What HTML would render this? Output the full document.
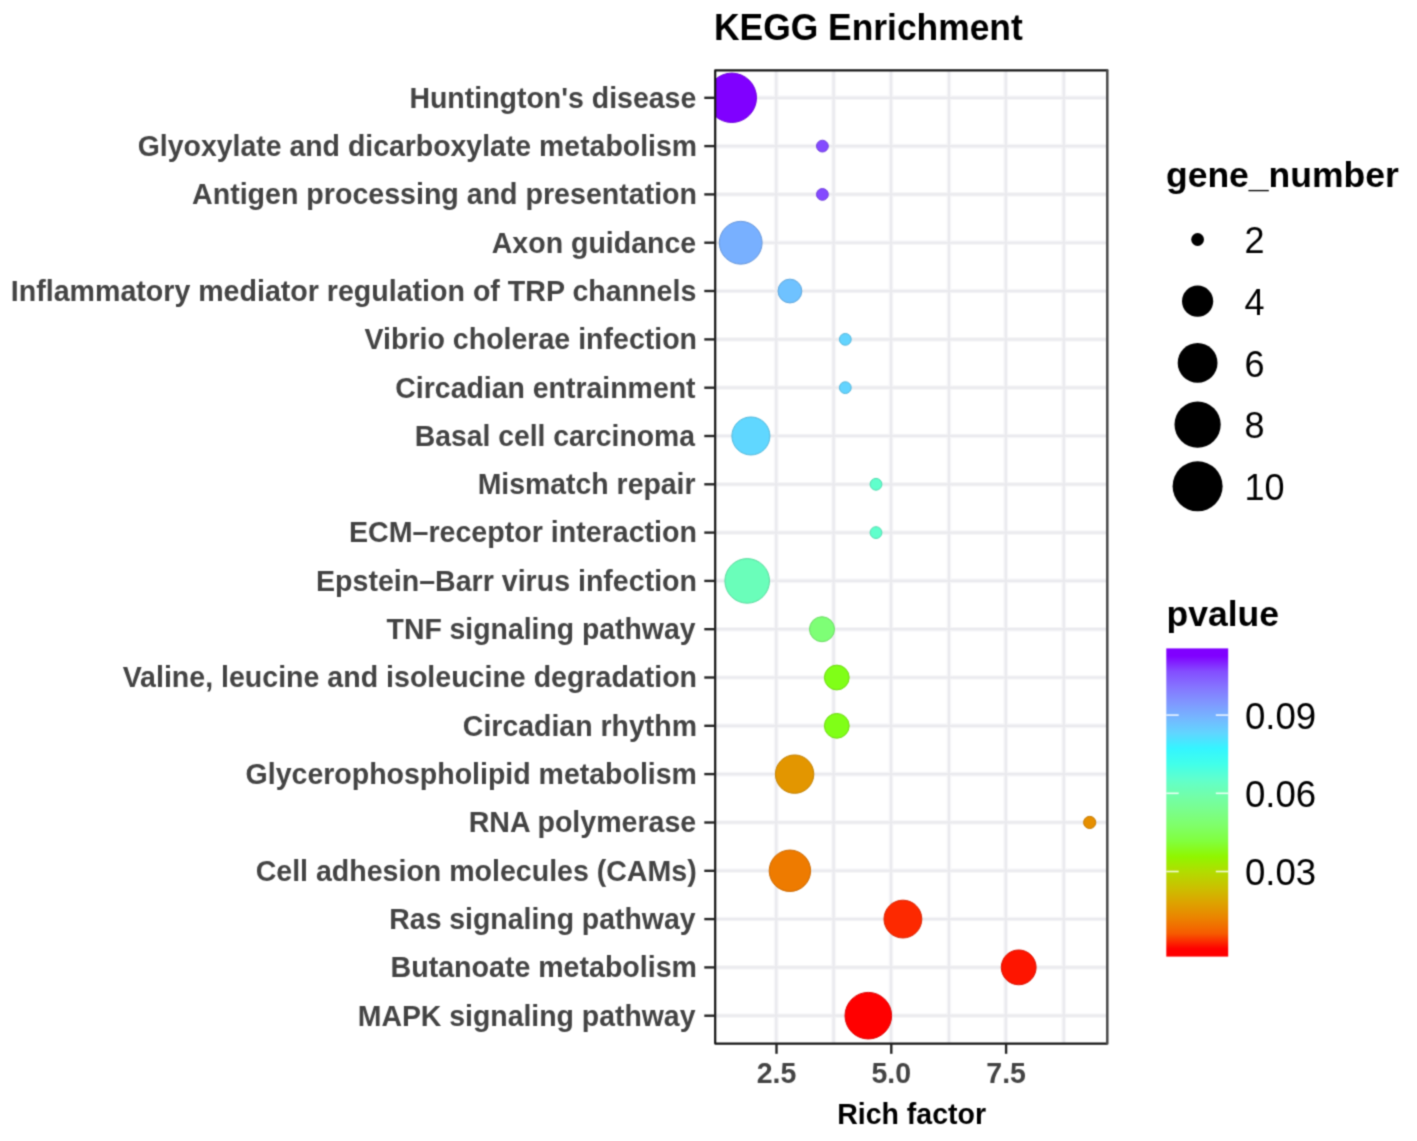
<!DOCTYPE html><html><head><meta charset="utf-8"><style>html,body{margin:0;padding:0;background:#fff;}svg{display:block;}text{font-family:"Liberation Sans",sans-serif;}</style></head><body>
<svg width="1417" height="1141" viewBox="0 0 1417 1141">
<rect width="1417" height="1141" fill="#fff"/>
<defs><clipPath id="pc"><rect x="715.2" y="70.3" width="392.0999999999999" height="973.3"/></clipPath>
<filter id="sb" filterUnits="userSpaceOnUse" x="0" y="0" width="1417" height="1141" color-interpolation-filters="sRGB"><feConvolveMatrix order="3" kernelMatrix="0.03610 0.11780 0.03610 0.11780 0.38440 0.11780 0.03610 0.11780 0.03610" divisor="1" preserveAlpha="false" edgeMode="none"/></filter>
<linearGradient id="cb" x1="0" y1="0" x2="0" y2="1"><stop offset="0.0" stop-color="#8000FF"/><stop offset="0.025" stop-color="#8000FF"/><stop offset="0.075" stop-color="#844DFF"/><stop offset="0.125" stop-color="#8574FF"/><stop offset="0.175" stop-color="#8096FF"/><stop offset="0.225" stop-color="#75B6FF"/><stop offset="0.275" stop-color="#61D5FF"/><stop offset="0.325" stop-color="#34F5FF"/><stop offset="0.375" stop-color="#41FFEA"/><stop offset="0.425" stop-color="#60FFCC"/><stop offset="0.475" stop-color="#71FEAC"/><stop offset="0.525" stop-color="#7AFE8C"/><stop offset="0.575" stop-color="#7FFF69"/><stop offset="0.625" stop-color="#81FF3E"/><stop offset="0.675" stop-color="#90F600"/><stop offset="0.725" stop-color="#B2DC00"/><stop offset="0.775" stop-color="#CAC100"/><stop offset="0.825" stop-color="#DDA300"/><stop offset="0.875" stop-color="#EB8300"/><stop offset="0.925" stop-color="#F65B00"/><stop offset="0.975" stop-color="#FF0000"/><stop offset="1.0" stop-color="#FF0000"/></linearGradient></defs>
<g filter="url(#sb)">
<g stroke="#F6F6F8" stroke-width="4.6" fill="none">
<line x1="776.2" y1="70.3" x2="776.2" y2="1043.6"/>
<line x1="833.6" y1="70.3" x2="833.6" y2="1043.6"/>
<line x1="891.0" y1="70.3" x2="891.0" y2="1043.6"/>
<line x1="948.9" y1="70.3" x2="948.9" y2="1043.6"/>
<line x1="1005.8" y1="70.3" x2="1005.8" y2="1043.6"/>
<line x1="1063.8" y1="70.3" x2="1063.8" y2="1043.6"/>
<line x1="715.2" y1="97.80" x2="1107.3" y2="97.80"/>
<line x1="715.2" y1="146.11" x2="1107.3" y2="146.11"/>
<line x1="715.2" y1="194.42" x2="1107.3" y2="194.42"/>
<line x1="715.2" y1="242.73" x2="1107.3" y2="242.73"/>
<line x1="715.2" y1="291.04" x2="1107.3" y2="291.04"/>
<line x1="715.2" y1="339.35" x2="1107.3" y2="339.35"/>
<line x1="715.2" y1="387.66" x2="1107.3" y2="387.66"/>
<line x1="715.2" y1="435.97" x2="1107.3" y2="435.97"/>
<line x1="715.2" y1="484.28" x2="1107.3" y2="484.28"/>
<line x1="715.2" y1="532.59" x2="1107.3" y2="532.59"/>
<line x1="715.2" y1="580.90" x2="1107.3" y2="580.90"/>
<line x1="715.2" y1="629.21" x2="1107.3" y2="629.21"/>
<line x1="715.2" y1="677.52" x2="1107.3" y2="677.52"/>
<line x1="715.2" y1="725.83" x2="1107.3" y2="725.83"/>
<line x1="715.2" y1="774.14" x2="1107.3" y2="774.14"/>
<line x1="715.2" y1="822.45" x2="1107.3" y2="822.45"/>
<line x1="715.2" y1="870.76" x2="1107.3" y2="870.76"/>
<line x1="715.2" y1="919.07" x2="1107.3" y2="919.07"/>
<line x1="715.2" y1="967.38" x2="1107.3" y2="967.38"/>
<line x1="715.2" y1="1015.69" x2="1107.3" y2="1015.69"/>
</g>
<g stroke="#EAEAEE" stroke-width="2.2" fill="none">
<line x1="776.2" y1="70.3" x2="776.2" y2="1043.6"/>
<line x1="833.6" y1="70.3" x2="833.6" y2="1043.6"/>
<line x1="891.0" y1="70.3" x2="891.0" y2="1043.6"/>
<line x1="948.9" y1="70.3" x2="948.9" y2="1043.6"/>
<line x1="1005.8" y1="70.3" x2="1005.8" y2="1043.6"/>
<line x1="1063.8" y1="70.3" x2="1063.8" y2="1043.6"/>
<line x1="715.2" y1="97.80" x2="1107.3" y2="97.80"/>
<line x1="715.2" y1="146.11" x2="1107.3" y2="146.11"/>
<line x1="715.2" y1="194.42" x2="1107.3" y2="194.42"/>
<line x1="715.2" y1="242.73" x2="1107.3" y2="242.73"/>
<line x1="715.2" y1="291.04" x2="1107.3" y2="291.04"/>
<line x1="715.2" y1="339.35" x2="1107.3" y2="339.35"/>
<line x1="715.2" y1="387.66" x2="1107.3" y2="387.66"/>
<line x1="715.2" y1="435.97" x2="1107.3" y2="435.97"/>
<line x1="715.2" y1="484.28" x2="1107.3" y2="484.28"/>
<line x1="715.2" y1="532.59" x2="1107.3" y2="532.59"/>
<line x1="715.2" y1="580.90" x2="1107.3" y2="580.90"/>
<line x1="715.2" y1="629.21" x2="1107.3" y2="629.21"/>
<line x1="715.2" y1="677.52" x2="1107.3" y2="677.52"/>
<line x1="715.2" y1="725.83" x2="1107.3" y2="725.83"/>
<line x1="715.2" y1="774.14" x2="1107.3" y2="774.14"/>
<line x1="715.2" y1="822.45" x2="1107.3" y2="822.45"/>
<line x1="715.2" y1="870.76" x2="1107.3" y2="870.76"/>
<line x1="715.2" y1="919.07" x2="1107.3" y2="919.07"/>
<line x1="715.2" y1="967.38" x2="1107.3" y2="967.38"/>
<line x1="715.2" y1="1015.69" x2="1107.3" y2="1015.69"/>
</g>
<g clip-path="url(#pc)">
<circle cx="731.8" cy="97.80" r="24.70" fill="#8000FF" stroke="#6E00DB" stroke-width="1"/>
<circle cx="822.4" cy="146.11" r="5.90" fill="#844AFF" stroke="#713FDB" stroke-width="1"/>
<circle cx="822.4" cy="194.42" r="5.90" fill="#844AFF" stroke="#713FDB" stroke-width="1"/>
<circle cx="740.7" cy="242.73" r="21.40" fill="#78B0FF" stroke="#6797DB" stroke-width="1"/>
<circle cx="789.9" cy="291.04" r="11.90" fill="#6FC2FF" stroke="#5FA6DB" stroke-width="1"/>
<circle cx="845.3" cy="339.35" r="5.90" fill="#63D4FF" stroke="#55B6DB" stroke-width="1"/>
<circle cx="845.3" cy="387.66" r="5.90" fill="#63D4FF" stroke="#55B6DB" stroke-width="1"/>
<circle cx="750.9" cy="435.97" r="19.00" fill="#60D7FF" stroke="#52B8DB" stroke-width="1"/>
<circle cx="876.0" cy="484.28" r="5.90" fill="#60FFCC" stroke="#52DBAF" stroke-width="1"/>
<circle cx="876.0" cy="532.59" r="5.90" fill="#60FFCC" stroke="#52DBAF" stroke-width="1"/>
<circle cx="747.2" cy="580.90" r="22.30" fill="#6AFEBA" stroke="#5BDA9F" stroke-width="1"/>
<circle cx="822.0" cy="629.21" r="12.50" fill="#7EFF76" stroke="#6CDB65" stroke-width="1"/>
<circle cx="836.8" cy="677.52" r="12.40" fill="#80FF17" stroke="#6EDB13" stroke-width="1"/>
<circle cx="836.8" cy="725.83" r="12.40" fill="#80FF17" stroke="#6EDB13" stroke-width="1"/>
<circle cx="794.6" cy="774.14" r="19.20" fill="#E39600" stroke="#C38100" stroke-width="1"/>
<circle cx="1089.7" cy="822.45" r="6.10" fill="#E68F00" stroke="#C57A00" stroke-width="1"/>
<circle cx="789.9" cy="870.76" r="20.70" fill="#EE7B00" stroke="#CC6900" stroke-width="1"/>
<circle cx="902.9" cy="919.07" r="18.90" fill="#FD2900" stroke="#D92300" stroke-width="1"/>
<circle cx="1018.7" cy="967.38" r="17.40" fill="#FE1500" stroke="#DA1200" stroke-width="1"/>
<circle cx="868.3" cy="1015.69" r="23.30" fill="#FF0000" stroke="#DB0000" stroke-width="1"/>
</g>
<path d="M1107.3,70.3 H715.2 V1043.6 H1107.3" fill="none" stroke="#141414" stroke-width="2.2" stroke-linejoin="round"/>
<path d="M1107.3,70.3 V1043.6" fill="none" stroke="#484848" stroke-width="2.5" stroke-linecap="round"/>
<g stroke="#252525" stroke-width="2.4">
<line x1="704.3" y1="97.8" x2="715.2" y2="97.8"/>
<line x1="704.3" y1="146.1" x2="715.2" y2="146.1"/>
<line x1="704.3" y1="194.4" x2="715.2" y2="194.4"/>
<line x1="704.3" y1="242.7" x2="715.2" y2="242.7"/>
<line x1="704.3" y1="291.0" x2="715.2" y2="291.0"/>
<line x1="704.3" y1="339.4" x2="715.2" y2="339.4"/>
<line x1="704.3" y1="387.7" x2="715.2" y2="387.7"/>
<line x1="704.3" y1="436.0" x2="715.2" y2="436.0"/>
<line x1="704.3" y1="484.3" x2="715.2" y2="484.3"/>
<line x1="704.3" y1="532.6" x2="715.2" y2="532.6"/>
<line x1="704.3" y1="580.9" x2="715.2" y2="580.9"/>
<line x1="704.3" y1="629.2" x2="715.2" y2="629.2"/>
<line x1="704.3" y1="677.5" x2="715.2" y2="677.5"/>
<line x1="704.3" y1="725.8" x2="715.2" y2="725.8"/>
<line x1="704.3" y1="774.1" x2="715.2" y2="774.1"/>
<line x1="704.3" y1="822.5" x2="715.2" y2="822.5"/>
<line x1="704.3" y1="870.8" x2="715.2" y2="870.8"/>
<line x1="704.3" y1="919.1" x2="715.2" y2="919.1"/>
<line x1="704.3" y1="967.4" x2="715.2" y2="967.4"/>
<line x1="704.3" y1="1015.7" x2="715.2" y2="1015.7"/>
<line x1="776.5" y1="1043.6" x2="776.5" y2="1053.8"/>
<line x1="891.3" y1="1043.6" x2="891.3" y2="1053.8"/>
<line x1="1006.1" y1="1043.6" x2="1006.1" y2="1053.8"/>
</g>
<g font-weight="bold" font-size="28.5" fill="#444444" text-anchor="end">
<text transform="translate(696.27,107.70) scale(1,1.03)" textLength="286.87" lengthAdjust="spacingAndGlyphs">Huntington&#x27;s disease</text>
<text transform="translate(697.03,156.01) scale(1,1.03)" textLength="559.27" lengthAdjust="spacingAndGlyphs">Glyoxylate and dicarboxylate metabolism</text>
<text transform="translate(697.02,204.32) scale(1,1.03)" textLength="504.99" lengthAdjust="spacingAndGlyphs">Antigen processing and presentation</text>
<text transform="translate(696.20,252.63) scale(1,1.03)" textLength="204.47" lengthAdjust="spacingAndGlyphs">Axon guidance</text>
<text transform="translate(696.29,300.94) scale(1,1.03)" textLength="685.48" lengthAdjust="spacingAndGlyphs">Inflammatory mediator regulation of TRP channels</text>
<text transform="translate(697.05,349.25) scale(1,1.03)" textLength="332.50" lengthAdjust="spacingAndGlyphs">Vibrio cholerae infection</text>
<text transform="translate(695.58,397.56) scale(1,1.03)" textLength="300.28" lengthAdjust="spacingAndGlyphs">Circadian entrainment</text>
<text transform="translate(695.03,445.87) scale(1,1.03)" textLength="280.37" lengthAdjust="spacingAndGlyphs">Basal cell carcinoma</text>
<text transform="translate(695.56,494.18) scale(1,1.03)" textLength="217.92" lengthAdjust="spacingAndGlyphs">Mismatch repair</text>
<text transform="translate(696.95,542.49) scale(1,1.03)" textLength="347.98" lengthAdjust="spacingAndGlyphs">ECM–receptor interaction</text>
<text transform="translate(696.98,590.80) scale(1,1.03)" textLength="380.99" lengthAdjust="spacingAndGlyphs">Epstein–Barr virus infection</text>
<text transform="translate(695.49,639.11) scale(1,1.03)" textLength="308.93" lengthAdjust="spacingAndGlyphs">TNF signaling pathway</text>
<text transform="translate(697.04,687.42) scale(1,1.03)" textLength="574.40" lengthAdjust="spacingAndGlyphs">Valine, leucine and isoleucine degradation</text>
<text transform="translate(696.98,735.73) scale(1,1.03)" textLength="234.13" lengthAdjust="spacingAndGlyphs">Circadian rhythm</text>
<text transform="translate(696.92,784.04) scale(1,1.03)" textLength="451.33" lengthAdjust="spacingAndGlyphs">Glycerophospholipid metabolism</text>
<text transform="translate(696.20,832.35) scale(1,1.03)" textLength="227.46" lengthAdjust="spacingAndGlyphs">RNA polymerase</text>
<text transform="translate(696.65,880.66) scale(1,1.03)" textLength="441.00" lengthAdjust="spacingAndGlyphs">Cell adhesion molecules (CAMs)</text>
<text transform="translate(695.51,928.97) scale(1,1.03)" textLength="306.20" lengthAdjust="spacingAndGlyphs">Ras signaling pathway</text>
<text transform="translate(696.99,977.28) scale(1,1.03)" textLength="306.39" lengthAdjust="spacingAndGlyphs">Butanoate metabolism</text>
<text transform="translate(695.45,1025.59) scale(1,1.03)" textLength="337.70" lengthAdjust="spacingAndGlyphs">MAPK signaling pathway</text>
</g>
<g font-weight="bold" font-size="28.5" fill="#444444" text-anchor="middle">
<text transform="translate(776.5,1083.2) scale(1,1.03)">2.5</text>
<text transform="translate(891.3,1083.2) scale(1,1.03)">5.0</text>
<text transform="translate(1006.1,1083.2) scale(1,1.03)">7.5</text>
</g>
<text transform="translate(911.6,1123.7) scale(1,1.04)" font-weight="bold" font-size="28.5" fill="#000" text-anchor="middle">Rich factor</text>
<text transform="translate(714,40.0) scale(1,1.06)" font-weight="bold" font-size="35.4" fill="#000">KEGG Enrichment</text>
<text x="1166" y="187" font-weight="bold" font-size="35.5" fill="#000">gene_number</text>
<circle cx="1197.6" cy="239.5" r="6.4" fill="#000"/>
<text transform="translate(1244.6,253.1) scale(1,1.02)" font-size="36" fill="#000">2</text>
<circle cx="1197.6" cy="301.2" r="15.6" fill="#000"/>
<text transform="translate(1244.6,314.8) scale(1,1.02)" font-size="36" fill="#000">4</text>
<circle cx="1197.6" cy="362.9" r="19.9" fill="#000"/>
<text transform="translate(1244.6,376.5) scale(1,1.02)" font-size="36" fill="#000">6</text>
<circle cx="1197.6" cy="424.6" r="23.1" fill="#000"/>
<text transform="translate(1244.6,438.2) scale(1,1.02)" font-size="36" fill="#000">8</text>
<circle cx="1197.6" cy="486.3" r="25.0" fill="#000"/>
<text transform="translate(1244.6,499.9) scale(1,1.02)" font-size="36" fill="#000">10</text>
<text x="1166.5" y="626.2" font-weight="bold" font-size="35.5" fill="#000">pvalue</text>
<rect x="1166.3" y="648.4" width="61.9" height="308.2" fill="url(#cb)"/>
<g stroke="#fff" stroke-width="1.6" stroke-opacity="0.85">
<line x1="1166.3" y1="715.1" x2="1178.7" y2="715.1"/><line x1="1215.8" y1="715.1" x2="1228.2" y2="715.1"/>
<line x1="1166.3" y1="793.3" x2="1178.7" y2="793.3"/><line x1="1215.8" y1="793.3" x2="1228.2" y2="793.3"/>
<line x1="1166.3" y1="871.5" x2="1178.7" y2="871.5"/><line x1="1215.8" y1="871.5" x2="1228.2" y2="871.5"/>
</g>
<text transform="translate(1244.9,728.7) scale(1,1.025)" font-size="36.6" fill="#000">0.09</text>
<text transform="translate(1244.9,806.9) scale(1,1.025)" font-size="36.6" fill="#000">0.06</text>
<text transform="translate(1244.9,885.1) scale(1,1.025)" font-size="36.6" fill="#000">0.03</text>
</g>
</svg></body></html>
